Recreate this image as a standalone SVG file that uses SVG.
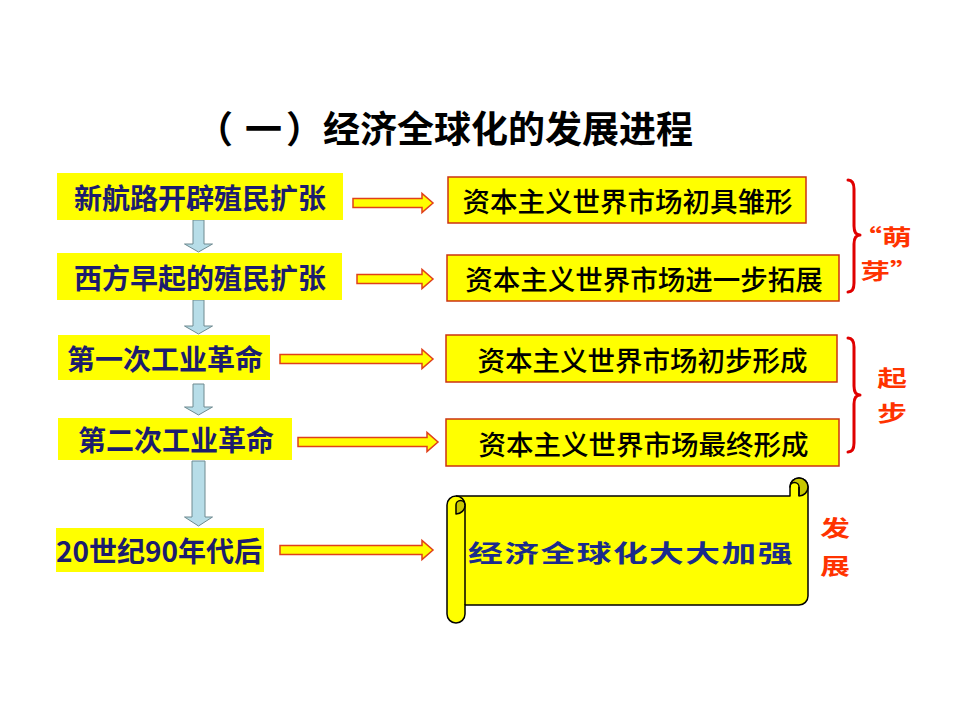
<svg xmlns="http://www.w3.org/2000/svg" width="960" height="720" viewBox="0 0 960 720">
<style>
.t{font-family:"Noto Sans CJK SC","Noto Sans CJK JP",sans-serif;dominant-baseline:central;text-anchor:middle}
.ti{font-size:37px;font-weight:bold;fill:#000;text-anchor:start}
.lb{fill:#ffff00}
.lt{font-size:28px;font-weight:bold;fill:#1c1c6e}
.rb{fill:#ffff00;stroke:#cc3311;stroke-width:1.5}
.rt{font-size:27.5px;font-weight:500;fill:#000}
.ra{fill:#ffff00;stroke:#e0401a;stroke-width:1.5;stroke-linejoin:miter}
.da{fill:#b7dde8;stroke:#6e8a90;stroke-width:1}
.br{fill:none;stroke:#e00000;stroke-width:3;stroke-linecap:round;stroke-linejoin:round}
.red{font-size:22px;font-weight:bold;fill:#ff3300}
.sc{fill:#ffff00;stroke:#000;stroke-width:1.5;stroke-linejoin:round}
.scd{fill:#c8c800;stroke:#000;stroke-width:1.5;stroke-linejoin:round}
</style>
<rect width="960" height="720" fill="#fff"/>
<g id="title">
<text class="t ti" x="196" y="127">（<tspan dx="12">一</tspan><tspan dx="4">）经济全球化的发展进程</tspan></text>
</g>

<g id="connectors">
<path class="da" d="M193 220 H204 V244 H212.5 L198.5 252 L184.5 244 H193 Z"/>
<path class="da" d="M193 300 H204 V326 H212.5 L198.5 334 L184.5 326 H193 Z"/>
<path class="da" d="M193 384 H204 V407 H212.5 L198.5 415 L184.5 407 H193 Z"/>
<path class="da" d="M192 461 H205 V517 H212.5 L198.5 526 L184.5 517 H192 Z"/>
<path class="ra" d="M353 198.5 H422 V193.5 L433 203 L422 212.5 V207.5 H353 Z"/>
<path class="ra" d="M357 274.5 H422 V269.5 L433 279 L422 288.5 V283.5 H357 Z"/>
<path class="ra" d="M280 354.5 H422 V349.5 L433 359 L422 368.5 V363.5 H280 Z"/>
<path class="ra" d="M298 437.5 H427 V432.5 L438 442 L427 451.5 V446.5 H298 Z"/>
<path class="ra" d="M280 545.5 H422 V540.5 L433 550 L422 559.5 V554.5 H280 Z"/>
<path class="br" d="M848 180 Q854 180 854 189 V226 Q854 235 860 235 Q854 235 854 244 V283 Q854 292 848 292"/>
<path class="br" d="M848 338 Q854 338 854 347 V386 Q854 395 860 395 Q854 395 854 404 V443 Q854 452 848 452"/>
</g>

<g id="n1"><rect class="lb" x="57" y="173" width="286" height="47"/><text class="t lt" x="200" y="196.5">新航路开辟殖民扩张</text></g>
<g id="n2"><rect class="lb" x="57" y="253" width="285" height="47"/><text class="t lt" x="200" y="276.5">西方早起的殖民扩张</text></g>
<g id="n3"><rect class="lb" x="58" y="335" width="212" height="45"/><text class="t lt" x="165" y="357.5">第一次工业革命</text></g>
<g id="n4"><rect class="lb" x="58" y="418" width="234" height="42"/><text class="t lt" x="176" y="439">第二次工业革命</text></g>
<g id="n5"><rect class="lb" x="56" y="528" width="208" height="44"/><text class="t lt" x="159" y="550">20世纪90年代后</text></g>

<g id="r1"><rect class="rb" x="448" y="177" width="358" height="46"/><text class="t rt" x="627.5" y="200">资本主义世界市场初具雏形</text></g>
<g id="r2"><rect class="rb" x="447" y="255" width="392" height="46"/><text class="t rt" x="644" y="278">资本主义世界市场进一步拓展</text></g>
<g id="r3"><rect class="rb" x="446" y="335" width="391" height="47"/><text class="t rt" x="642.5" y="358.5">资本主义世界市场初步形成</text></g>
<g id="r4"><rect class="rb" x="446" y="419" width="393" height="47"/><text class="t rt" x="643.5" y="442.5">资本主义世界市场最终形成</text></g>

<g id="scroll">
<path class="sc" d="M808 487 L808 596 A9 9 0 0 1 799 605 L465 605 L465 614 A9 9 0 0 1 447 614 L447 505 A9 9 0 0 1 456 496 L790 496 L790 487 A9 9 0 0 1 808 487 Z"/>
<path class="sc" fill="none" d="M465 505 V605"/>
<path class="scd" d="M456 514 A9 9 0 0 0 465 505 A4.5 4.5 0 0 0 456 505 Z"/>
<path class="sc" style="fill:none" d="M456 496 A9 9 0 0 1 465 505"/>
<path class="scd" d="M799 496 A9 9 0 1 0 790 487 A4.5 4.5 0 0 1 799 487 Z"/>
<path class="sc" style="fill:none" d="M799 487 V496"/>
<text class="t" transform="translate(631 552) scale(1.45 1)" x="0" y="0" font-size="24" font-weight="bold" fill="#1a2b8c" letter-spacing="1">经济全球化大大加强</text>
</g>

<g id="labels">
<text class="t red" transform="translate(882 236) scale(1.35 1)">“萌</text>
<text class="t red" transform="translate(890 270) scale(1.35 1)">芽”</text>
<text class="t red" transform="translate(892 377) scale(1.35 1)">起</text>
<text class="t red" transform="translate(892 412) scale(1.35 1)">步</text>
<text class="t red" transform="translate(835 527) scale(1.35 1)">发</text>
<text class="t red" transform="translate(835 565) scale(1.35 1)">展</text>
</g>
</svg>
